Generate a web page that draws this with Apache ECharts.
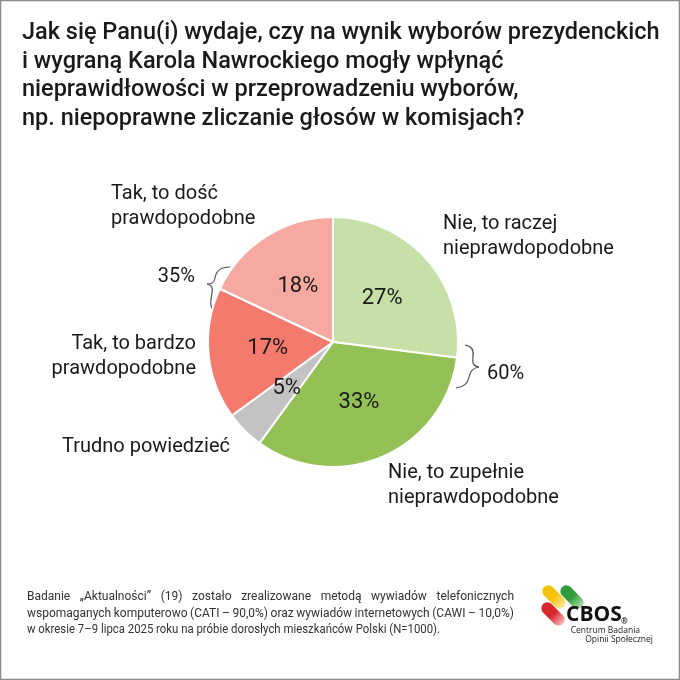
<!DOCTYPE html>
<html>
<head>
<meta charset="utf-8">
<script src="https://cdn.jsdelivr.net/npm/echarts@6/dist/echarts.min.js"></script>
<style>
html,body{margin:0;padding:0;background:#fff;}
#main{width:680px;height:680px;}
</style>
</head>
<body>
<div id="main"></div>
<script>
// ---- data ----
var categories = ['Nie, to raczej nieprawdopodobne', 'Nie, to zupełnie nieprawdopodobne', 'Trudno powiedzieć', 'Tak, to bardzo prawdopodobne', 'Tak, to dość prawdopodobne'];
var outsideLabels = ['Nie, to raczej\nnieprawdopodobne', 'Nie, to zupełnie\nnieprawdopodobne', 'Trudno powiedzieć', 'Tak, to bardzo\nprawdopodobne', 'Tak, to dość\nprawdopodobne'];
var values = [27, 33, 5, 17, 18];
var colors = ['#c6e0a8', '#93c155', '#c3c3c3', '#f47a6d', '#f6a9a1'];
var groupLabels = ['35%', '60%'];
var titleLines = [
  'Jak się Panu(i) wydaje, czy na wynik wyborów prezydenckich',
  'i wygraną Karola Nawrockiego mogły wpłynąć',
  'nieprawidłowości w przeprowadzeniu wyborów,',
  'np. niepoprawne zliczanie głosów w komisjach?'
];
var footerLines = [
  'Badanie „Aktualności” (19) zostało zrealizowane metodą wywiadów telefonicznych',
  'wspomaganych komputerowo (CATI – 90,0%) oraz wywiadów internetowych (CAWI – 10,0%)',
  'w okresie 7–9 lipca 2025 roku na próbie dorosłych mieszkańców Polski (N=1000).'
];

var chart = echarts.init(document.getElementById('main'), null, {renderer: 'canvas'});
var FONT = 'Roboto, "Noto Sans", sans-serif';
var txtColor = '#1a1a1a';

// outside label placement (anchor x, y of block center, alignment)
var outPos = [
  {x: 443, y: 236, align: 'left'},
  {x: 388, y: 485, align: 'left'},
  {x: 62, y: 447, align: 'left'},
  {x: 196, y: 356, align: 'right'},
  {x: 111, y: 206, align: 'left'}
];

// justified footer via measuring
var measureCtx = document.createElement('canvas').getContext('2d');
var footerFont = '12px ' + FONT;
measureCtx.font = footerFont;
function justifyLine(line, x0, x1, y, justify) {
  var words = line.split(' ');
  var els = [];
  if (!justify) {
    var w0 = measureCtx.measureText(line).width;
    els.push({type: 'text', x: x0, y: y, scaleX: Math.min(1, (x1 - x0) / w0), style: {text: line, font: footerFont, fill: '#333', verticalAlign: 'middle'}});
    return els;
  }
  var total = 0;
  words.forEach(function (w) { total += measureCtx.measureText(w).width; });
  var gap = (x1 - x0 - total) / (words.length - 1);
  var x = x0;
  words.forEach(function (w) {
    els.push({type: 'text', x: x, y: y, style: {text: w, font: footerFont, fill: '#333', verticalAlign: 'middle'}});
    x += measureCtx.measureText(w).width + gap;
  });
  return els;
}
function brace(segs) {
  var out = [];
  var px = segs[0][0], py = segs[0][1];
  for (var i = 1; i < segs.length; i++) {
    var s = segs[i];
    out.push({type: 'bezierCurve', shape: {x1: px, y1: py, cpx1: s[0], cpy1: s[1], cpx2: s[2], cpy2: s[3], x2: s[4], y2: s[5]},
      style: {fill: 'none', stroke: '#555', lineWidth: 1.2}});
    px = s[4]; py = s[5];
  }
  return out;
}

var graphics = [];
// border
graphics.push({type: 'rect', shape: {x: 0.5, y: 0.5, width: 679, height: 679}, style: {fill: 'none', stroke: '#8a8a8a', lineWidth: 1.5}, silent: true});
// title
titleLines.forEach(function (t, i) {
  graphics.push({type: 'text', x: 22, y: 33 + i * 28.7, style: {text: t, font: '500 23.5px ' + FONT, fill: txtColor, verticalAlign: 'middle'}});
});
// outside labels
outsideLabels.forEach(function (t, i) {
  var p = outPos[i];
  graphics.push({type: 'text', x: p.x, y: p.y, style: {text: t, font: '20px ' + FONT, fill: txtColor, align: p.align, verticalAlign: 'middle', lineHeight: 25}});
});
// group labels + braces
graphics.push({type: 'text', x: 195, y: 277, style: {text: groupLabels[0], font: '20px ' + FONT, fill: txtColor, align: 'right', verticalAlign: 'middle'}});
graphics.push({type: 'text', x: 487, y: 374, style: {text: groupLabels[1], font: '20px ' + FONT, fill: txtColor, align: 'left', verticalAlign: 'middle'}});
brace([[230, 267], [220, 267, 216, 271, 215, 278], [214, 283, 212, 284, 207, 284], [212, 285, 213, 287, 212, 293], [211, 300, 209, 307, 214, 310]]).forEach(function (e) { graphics.push(e); });
brace([[465, 345], [472, 346, 474, 350, 473, 357], [472, 363, 473, 366, 479, 367], [473, 368, 470, 371, 469, 377], [468, 383, 465, 387, 456, 388]]).forEach(function (e) { graphics.push(e); });
// footer
footerLines.forEach(function (t, i) {
  justifyLine(t, 27, i < 2 ? 514 : 440, 597 + i * 16.5, i < 2).forEach(function (e) { graphics.push(e); });
});
// logo pills
function pill(cx, cy, c, c2) {
  return {type: 'rect', x: cx, y: cy, rotation: -Math.PI / 4,
    shape: {x: -14, y: -6, width: 28, height: 12, r: 6},
    style: {fill: {type: 'linear', x: 0, y: 0, x2: 1, y2: 0, colorStops: [{offset: 0, color: c}, {offset: 0.5, color: c}, {offset: 1, color: c2}]}}};
}
graphics.push(pill(554, 597, '#f4c20d', '#fbe9a0'));
graphics.push(pill(572, 597, '#2f9e3a', '#b9e0b4'));
graphics.push(pill(553, 614, '#d8262e', '#f5b9bb'));
graphics.push({type: 'text', x: 566, y: 615, style: {text: 'CBOS', font: 'bold 21px "Open Sans", sans-serif', fill: '#111', verticalAlign: 'middle'}});
graphics.push({type: 'text', x: 621, y: 622, style: {text: '®', font: 'bold 8px "Open Sans", sans-serif', fill: '#111', verticalAlign: 'middle'}});
graphics.push({type: 'text', x: 640, y: 631, style: {text: 'Centrum Badania', font: '8.5px "Open Sans", sans-serif', fill: '#222', align: 'right', verticalAlign: 'middle'}});
graphics.push({type: 'text', x: 653, y: 640, style: {text: 'Opinii Społecznej', font: '8.5px "Open Sans", sans-serif', fill: '#222', align: 'right', verticalAlign: 'middle'}});

chart.setOption({
  animation: false,
  backgroundColor: '#fff',
  graphic: graphics,
  series: [{
    type: 'pie',
    center: [333, 342],
    radius: [0, 125],
    startAngle: 90,
    clockwise: true,
    silent: true,
    label: {
      show: true,
      position: 'inside',
      formatter: '{c}%',
      fontFamily: FONT,
      fontSize: 22,
      color: txtColor
    },
    labelLine: {show: false},
    itemStyle: {borderColor: '#fff', borderWidth: 2},
    data: categories.map(function (n, i) {
      return {name: n, value: values[i], itemStyle: {color: colors[i]}};
    })
  }]
});
</script>
</body>
</html>
